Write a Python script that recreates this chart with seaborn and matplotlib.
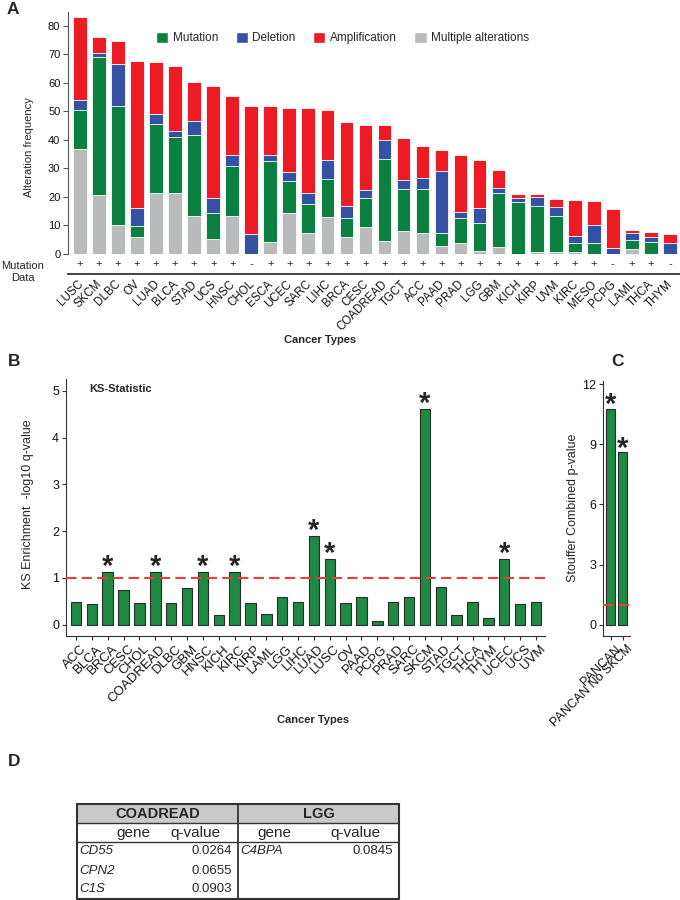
import numpy as np
import pandas as pd
import matplotlib
matplotlib.use("Agg")
import matplotlib.pyplot as plt
import seaborn as sns
from matplotlib.patches import Patch, Rectangle
from matplotlib.transforms import ScaledTranslation

# ---------------- data ----------------
a_types = ["LUSC", "SKCM", "DLBC", "OV", "LUAD", "BLCA", "STAD", "UCS", "HNSC", "CHOL",
           "ESCA", "UCEC", "SARC", "LIHC", "BRCA", "CESC", "COADREAD", "TGCT", "ACC", "PAAD",
           "PRAD", "LGG", "GBM", "KICH", "KIRP", "UVM", "KIRC", "MESO", "PCPG", "LAML",
           "THCA", "THYM"]
a_multiple = [36.9, 20.7, 10.3, 5.9, 21.3, 21.3, 13.2, 5.4, 13.2, 0.0,
              4.1, 14.3, 7.3, 12.9, 5.8, 9.4, 4.4, 8.1, 7.5, 2.7,
              4.0, 0.9, 2.6, 0.0, 0.7, 0.6, 0.7, 0.0, 0.0, 1.8,
              0.0, 0.0]
a_mutation = [13.5, 48.3, 41.7, 3.8, 24.4, 19.7, 28.6, 8.9, 17.6, 0.0,
              28.5, 11.2, 10.3, 13.3, 6.7, 10.4, 29.1, 14.6, 15.2, 4.8,
              8.5, 9.9, 18.9, 18.1, 16.0, 12.9, 3.0, 3.7, 0.0, 3.1,
              4.1, 0.0]
a_deletion = [3.5, 1.4, 14.5, 6.6, 3.4, 2.3, 5.0, 5.3, 3.9, 6.9,
              2.1, 3.1, 3.9, 6.8, 4.4, 2.7, 6.4, 3.3, 4.1, 21.5,
              2.3, 5.4, 1.5, 1.6, 3.2, 2.9, 2.5, 6.3, 2.2, 2.4,
              2.0, 4.0]
a_amplification = [29.1, 5.9, 8.3, 51.3, 18.1, 22.6, 13.7, 39.2, 20.6, 45.1,
                   17.1, 22.6, 29.6, 17.6, 29.5, 22.9, 5.2, 14.7, 11.0, 7.5,
                   19.9, 16.8, 6.5, 1.4, 1.1, 2.9, 12.9, 8.5, 13.7, 1.1,
                   1.7, 3.1]
a_mutation_data = ["+", "+", "+", "+", "+", "+", "+", "+", "+", "-",
                   "+", "+", "+", "+", "+", "+", "+", "+", "+", "+",
                   "+", "+", "+", "+", "+", "+", "+", "+", "-", "+",
                   "+", "-"]

ks_types = ["ACC", "BLCA", "BRCA", "CESC", "CHOL", "COADREAD", "DLBC", "GBM", "HNSC", "KICH",
            "KIRC", "KIRP", "LAML", "LGG", "LIHC", "LUAD", "LUSC", "OV", "PAAD", "PCPG",
            "PRAD", "SARC", "SKCM", "STAD", "TGCT", "THCA", "THYM", "UCEC", "UCS", "UVM"]
ks_values = [0.48, 0.44, 1.13, 0.75, 0.46, 1.13, 0.46, 0.79, 1.13, 0.20,
             1.13, 0.46, 0.22, 0.59, 0.48, 1.89, 1.41, 0.46, 0.59, 0.09,
             0.48, 0.59, 4.60, 0.80, 0.20, 0.48, 0.14, 1.41, 0.44, 0.48]
ks_significant = ["BRCA", "COADREAD", "HNSC", "KIRC", "LUAD", "LUSC", "SKCM", "UCEC"]
ks_threshold = 1.0

st_types = ["PANCAN", "PANCAN No SKCM"]
st_values = [10.75, 8.59]
st_threshold = 1.0

tbl_groups = ["COADREAD", "LGG"]
tbl_coadread_genes = ["CD55", "CPN2", "C1S"]
tbl_coadread_q = ["0.0264", "0.0655", "0.0903"]
tbl_lgg_genes = ["C4BPA"]
tbl_lgg_q = ["0.0845"]

# ---------------- style ----------------
sns.set_style("ticks")
plt.rcParams["font.family"] = ["Liberation Sans", "DejaVu Sans"]
plt.rcParams["axes.edgecolor"] = "#333333"
plt.rcParams["xtick.color"] = "#333333"
plt.rcParams["ytick.color"] = "#333333"
plt.rcParams["xtick.labelcolor"] = "#111111"
plt.rcParams["ytick.labelcolor"] = "#111111"

W, H = 680, 900
fig = plt.figure(figsize=(6.8, 9), dpi=100)


def px_axes(left, top, right, bottom):
    return fig.add_axes([left / W, 1 - bottom / H, (right - left) / W, (bottom - top) / H])


def ftext(x, y, s, **kw):
    return fig.text(x / W, 1 - y / H, s, **kw)


def rotate_labels(ax, angle, dx_px):
    for lbl in ax.get_xticklabels():
        lbl.set_rotation(angle)
        lbl.set_ha("right")
        lbl.set_va("top")
        lbl.set_rotation_mode("anchor")
        lbl.set_transform(lbl.get_transform() + ScaledTranslation(dx_px / 100, 0, fig.dpi_scale_trans))


C_GREEN = "#0b8041"
C_BLUE = "#3551a4"
C_RED = "#ed1c24"
C_GREY = "#b9babc"
C_BAR = "#1f8a43"
C_DASH = "#ee3b3b"

# ---------------- Panel A ----------------
axA = px_axes(68, 12, 680, 274)
mult = np.array(a_multiple)
mut = np.array(a_mutation)
dele = np.array(a_deletion)
amp = np.array(a_amplification)
layers = [
    (mult + mut + dele + amp, C_RED),
    (mult + mut + dele, C_BLUE),
    (mult + mut, C_GREEN),
    (mult, C_GREY),
]
for vals, col in layers:
    sns.barplot(x=a_types, y=vals, color=col, saturation=1, width=0.72,
                edgecolor="white", linewidth=0.6, errorbar=None, ax=axA)
axA.set_xlim(-0.63, 31.53)
axA.set_ylim(-7.02, 84.9)
axA.set_yticks(range(0, 81, 10))
sns.despine(ax=axA)
axA.spines["left"].set_bounds(0, 84.9)
axA.spines["left"].set_color("#555555")
axA.spines["bottom"].set_linewidth(1.3)
axA.spines["bottom"].set_color("#333333")
axA.tick_params(axis="y", labelsize=8, length=3.5, width=0.8, color="#555555", pad=2)
axA.tick_params(axis="x", length=0, labelsize=8.3, pad=3)
axA.set_xlabel("")
axA.set_ylabel("")
rotate_labels(axA, 45, -3)
for i, m in enumerate(a_mutation_data):
    axA.text(i, -3.6, m, ha="center", va="center", fontsize=8, color="#222222")
ftext(23, 272, "Mutation\nData", ha="center", va="center", fontsize=8, linespacing=1.35)
ftext(29, 147, "Alteration frequency", rotation=90, ha="center", va="center", fontsize=8)
ftext(320, 340, "Cancer Types", ha="center", va="center", fontsize=8, fontweight="bold")

handles = [Patch(facecolor=C_GREEN, edgecolor="white"), Patch(facecolor=C_BLUE, edgecolor="white"),
           Patch(facecolor=C_RED, edgecolor="white"), Patch(facecolor=C_GREY, edgecolor="white")]
labels = ["Mutation", "Deletion", "Amplification", "Multiple alterations"]
axA.legend(handles, labels, ncol=4, loc="upper left", bbox_to_anchor=(156 / W, 1 - 32 / H),
           bbox_transform=fig.transFigure, frameon=False, fontsize=8.5, handlelength=1.05,
           handleheight=1.0, handletextpad=0.35, columnspacing=1.5, borderpad=0, borderaxespad=0)

# ---------------- Panel B ----------------
axB = px_axes(66, 379, 545, 636)
sns.barplot(x=ks_types, y=ks_values, color=C_BAR, saturation=1, width=0.66,
            edgecolor="#2b2b2b", linewidth=0.8, errorbar=None, ax=axB)
axB.set_xlim(-0.63, 29.57)
axB.set_ylim(-0.24, 5.25)
axB.set_yticks(range(0, 6))
sns.despine(ax=axB)
axB.axhline(ks_threshold, color=C_DASH, lw=1.5, dashes=(5, 2.5), zorder=5)
for i, (t, v) in enumerate(zip(ks_types, ks_values)):
    if t in ks_significant:
        axB.annotate("*", (i, v), xytext=(0, -2), textcoords="offset points", ha="center",
                     va="baseline", fontsize=21, fontweight="bold")
axB.tick_params(axis="y", labelsize=9, length=3, width=0.8, pad=2)
axB.tick_params(axis="x", labelsize=9.5, length=3, width=0.8, pad=2)
axB.set_xlabel("")
axB.set_ylabel("")
rotate_labels(axB, 45, 4)
ftext(89, 389, "KS-Statistic", ha="left", va="center", fontsize=8, fontweight="bold")
ftext(28, 504, "KS Enrichment  -log10 q-value", rotation=90, ha="center", va="center", fontsize=9)
ftext(313, 720, "Cancer Types", ha="center", va="center", fontsize=8, fontweight="bold")

# ---------------- Panel C ----------------
axC = px_axes(603, 381, 630, 636)
sns.barplot(x=st_types, y=st_values, color=C_BAR, saturation=1, width=0.7,
            edgecolor="#2b2b2b", linewidth=0.8, errorbar=None, ax=axC)
axC.set_xlim(-0.64, 1.61)
axC.set_ylim(-0.556, 12.15)
axC.set_yticks([0, 3, 6, 9, 12])
sns.despine(ax=axC)
axC.axhline(st_threshold, color=C_DASH, lw=1.5, dashes=(5, 2.5), zorder=5)
for i, v in enumerate(st_values):
    axC.annotate("*", (i, v), xytext=(0, -3), textcoords="offset points", ha="center",
                 va="baseline", fontsize=21, fontweight="bold")
axC.tick_params(axis="y", labelsize=9, length=3, width=0.8, pad=2)
axC.tick_params(axis="x", labelsize=9, length=3, width=0.8, pad=2)
axC.set_xlabel("")
axC.set_ylabel("")
rotate_labels(axC, 45, 4)
ftext(573, 508, "Stouffer Combined p-value", rotation=90, ha="center", va="center", fontsize=9)

# ---------------- Panel D (table) ----------------
axD = px_axes(0, 790, 680, 900)
axD.set_xlim(0, 680)
axD.set_ylim(900, 790)
axD.axis("off")
L, R, M = 77, 399, 238
T, H1, H2, B = 804, 823, 842, 899
axD.add_patch(Rectangle((L, T), R - L, H1 - T, facecolor="#c9c9c9", edgecolor="none"))
axD.add_patch(Rectangle((L, T), R - L, B - T, facecolor="none", edgecolor="#333333", lw=1.5))
axD.plot([L, R], [H1, H1], color="#333333", lw=1.0)
axD.plot([L, R], [H2, H2], color="#333333", lw=1.0)
axD.plot([M, M], [T, B], color="#333333", lw=1.3)
axD.text((L + M) / 2, (T + H1) / 2 + 0.5, tbl_groups[0], ha="center", va="center",
         fontsize=10.5, fontweight="bold")
axD.text((M + R) / 2, (T + H1) / 2 + 0.5, tbl_groups[1], ha="center", va="center",
         fontsize=10.5, fontweight="bold")
for gx, qx in [(133, 195), (274, 355)]:
    axD.text(gx, (H1 + H2) / 2 + 0.5, "gene", ha="center", va="center", fontsize=11)
    axD.text(qx, (H1 + H2) / 2 + 0.5, "q-value", ha="center", va="center", fontsize=11)
row_h = (B - H2) / 3
for k, (g, q) in enumerate(zip(tbl_coadread_genes, tbl_coadread_q)):
    yy = H2 + row_h * (k + 0.5)
    axD.text(L + 2, yy, g, ha="left", va="center", fontsize=9.5, style="italic")
    axD.text(M - 6, yy, q, ha="right", va="center", fontsize=9.5)
for k, (g, q) in enumerate(zip(tbl_lgg_genes, tbl_lgg_q)):
    yy = H2 + row_h * (k + 0.5)
    axD.text(M + 2, yy, g, ha="left", va="center", fontsize=9.5, style="italic")
    axD.text(R - 6, yy, q, ha="right", va="center", fontsize=9.5)

# ---------------- panel letters ----------------
for s, x, y in [("A", 7, 9), ("B", 8, 362), ("C", 611, 362), ("D", 8, 761)]:
    ftext(x, y, s, ha="left", va="center", fontsize=12.5, fontweight="bold")

fig.savefig("out.png", dpi=100)
